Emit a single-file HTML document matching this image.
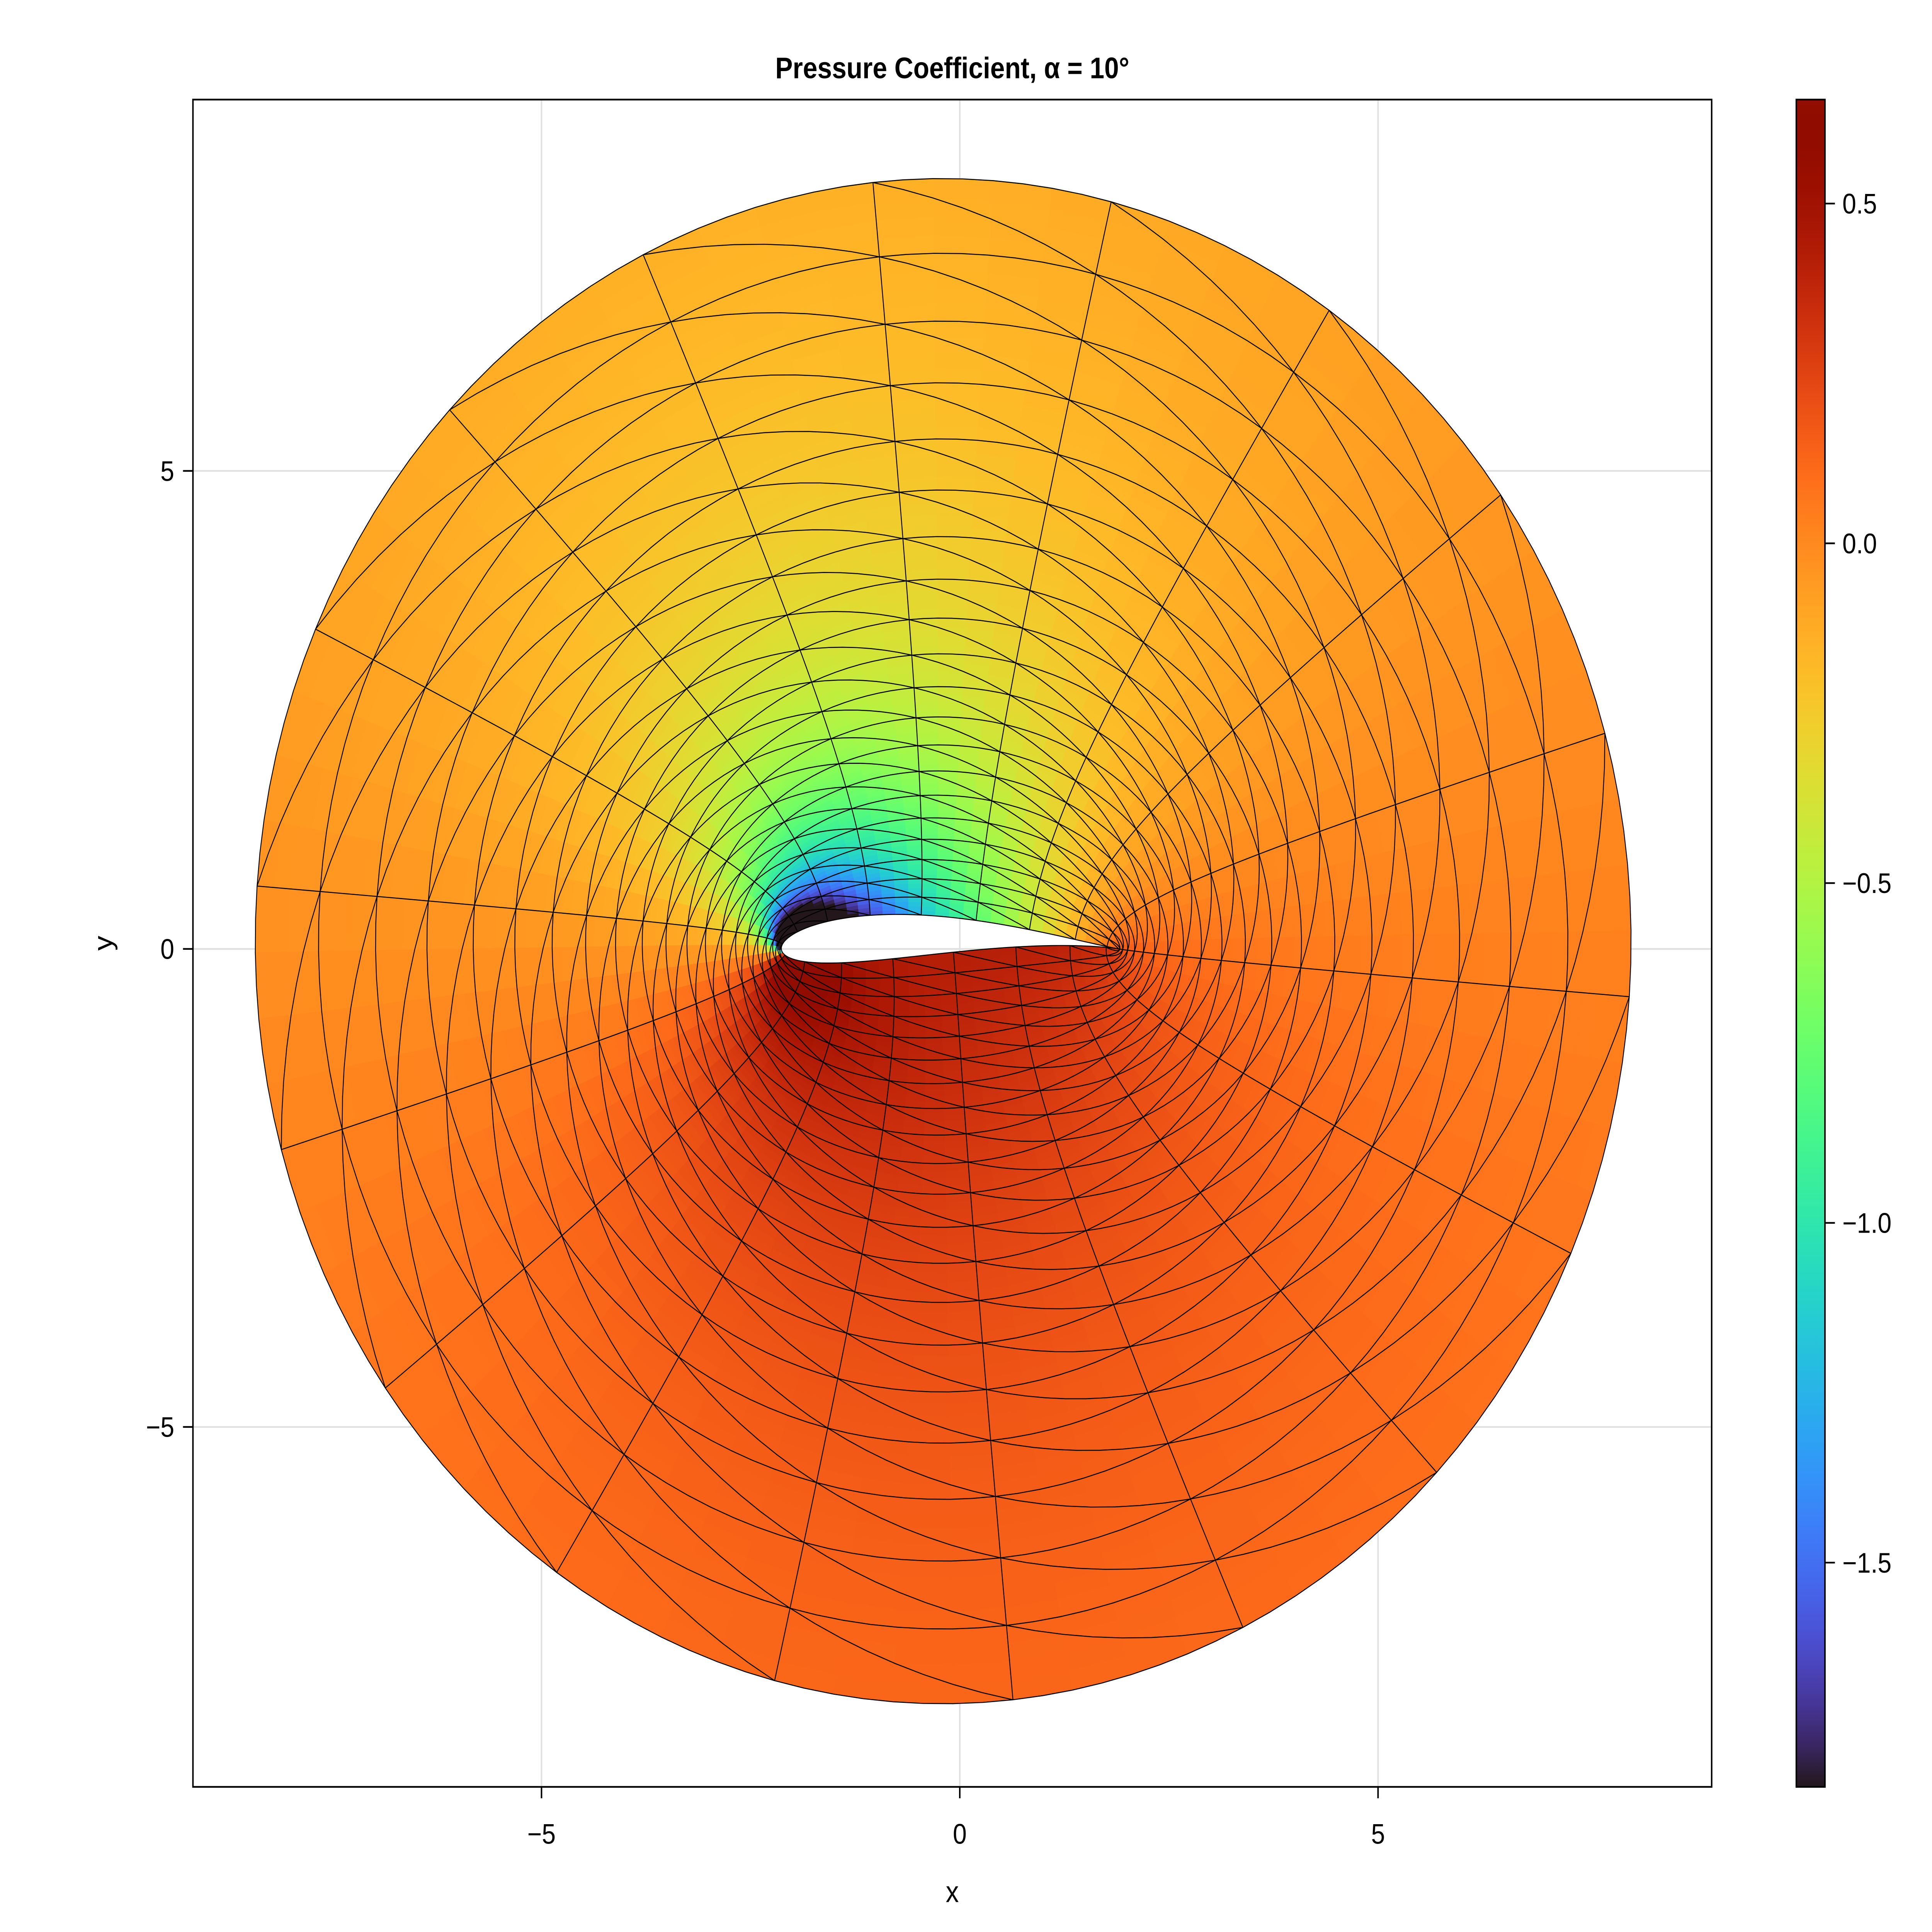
<!DOCTYPE html>
<html><head><meta charset="utf-8"><style>
html,body{margin:0;padding:0;background:#fff;overflow:hidden;width:100vw;height:100vh;}
svg{display:block;font-family:"Liberation Sans",sans-serif;width:100vw;height:100vh;}
</style></head><body>
<svg id="chart" viewBox="0 0 1552 1358" preserveAspectRatio="none" xmlns="http://www.w3.org/2000/svg">
<rect width="1552" height="1358" fill="#fff"/>
<text x="765" y="55" text-anchor="middle" font-size="21" font-weight="bold">Pressure Coefficient, α = 10°</text>
<g id="grid"></g>
<g id="mesh"></g>
<g id="lines"></g>
<rect x="155" y="70" width="1220" height="1186" fill="none" stroke="#000" stroke-width="1.2"/>
<g id="axes"></g>
<text x="765" y="1337" text-anchor="middle" font-size="21">x</text>
<text x="0" y="0" transform="translate(90,663) rotate(-90)" text-anchor="middle" font-size="21">y</text>
<defs><linearGradient id="cbg" x1="0" y1="1" x2="0" y2="0"></linearGradient></defs>
<rect x="1443" y="70" width="23" height="1186" fill="url(#cbg)" stroke="#000" stroke-width="1.2"/>
<g id="cbticks"></g>
</svg>
<script>
const alphaDeg = [10];
const zetaCenter = [-0.1, 0.08];
const outerRadius = [8.1];
const xTicks = [-5, 0, 5];
const yTicks = [-5, 0, 5];
const cbTicks = [0.5, 0.0, -0.5, -1.0, -1.5];
const cbTickLabels = ["0.5", "0.0", "\u22120.5", "\u22121.0", "\u22121.5"];
const cRange = [-1.83, 0.653];
const nTheta = [18];
const nRings = [20];

const NS = "http://www.w3.org/2000/svg";
const sx = x => 771 + 67.2 * x;
const sy = y => 667 - 67.2 * y;
const cy = v => 70 + (cRange[1] - v) / (cRange[1] - cRange[0]) * 1186;
function mk(tag, attrs, parent) { const e = document.createElementNS(NS, tag); for (const k in attrs) e.setAttribute(k, attrs[k]); parent.appendChild(e); return e; }
function turbo(x) {
  x = Math.max(0, Math.min(1, x));
  const r = 0.13572138 + x*(4.61539260 + x*(-42.66032258 + x*(132.13108234 + x*(-152.94239396 + x*59.28637943))));
  const g = 0.09140261 + x*(2.19418839 + x*(4.84296658 + x*(-14.18503333 + x*(4.27729857 + x*2.82956604))));
  const b = 0.10667330 + x*(12.64194608 + x*(-60.58204836 + x*(110.36276771 + x*(-89.90310912 + x*27.34824973))));
  const c = v => Math.round(255 * Math.max(0, Math.min(1, v)));
  return `rgb(${c(r)},${c(g)},${c(b)})`;
}
const cm = (a, b) => [a[0]*b[0]-a[1]*b[1], a[0]*b[1]+a[1]*b[0]];
const cd = (a, b) => { const d = b[0]*b[0]+b[1]*b[1]; return [(a[0]*b[0]+a[1]*b[1])/d, (a[1]*b[0]-a[0]*b[1])/d]; };
const ca = (a, b) => [a[0]+b[0], a[1]+b[1]];
const cs = (a, b) => [a[0]-b[0], a[1]-b[1]];

const al = alphaDeg[0] * Math.PI / 180;
const z0 = zetaCenter;
const s1 = cs([1,0], z0);
const aR = Math.hypot(s1[0], s1[1]);
const eM = [Math.cos(al), -Math.sin(al)], eP = [Math.cos(al), Math.sin(al)];
const a2 = aR * aR;
const term1 = cs(eM, cd(cm([a2,0], eP), cm(s1, s1)));
const Gam = cm([0, 2*Math.PI], cm(s1, term1))[0];
function cp(zeta) {
  const s = cs(zeta, z0);
  let W = cs(eM, cd(cm([a2,0], eP), cm(s, s)));
  W = ca(W, cd([0, Gam/(2*Math.PI)], s));
  const dz = cs([1,0], cd([1,0], cm(zeta, zeta)));
  const w = cd(W, dz);
  return 1 - (w[0]*w[0] + w[1]*w[1]);
}
function toZ(zeta) { const z = ca(zeta, cd([1,0], zeta)); return [z[0] - 0.1, z[1]]; }

const grid = document.getElementById('grid');
xTicks.forEach(t => { const l = mk('line', {x1: sx(t), x2: sx(t), y1: 70, y2: 1256, stroke: '#e0e0e0', 'stroke-width': 1.2}, grid);   });
yTicks.forEach(t => { const l = mk('line', {x1: 155, x2: 1375, y1: sy(t), y2: sy(t), stroke: '#e0e0e0', 'stroke-width': 1.2}, grid);   });

const N = nTheta[0], K = nRings[0], R = outerRadius[0];
const th0 = Math.atan2(-z0[1], 1 - z0[0]);
// parametric (u = angular index, v = ring index) -> zeta
function zetaAt(u, v) {
  const r = aR * Math.pow(R / aR, v / K);
  const t = th0 + 2 * Math.PI * u / N;
  return [z0[0] + r*Math.cos(t), z0[1] + r*Math.sin(t)];
}
function scr(zeta) { const z = toZ(zeta); return [sx(z[0]), sy(z[1])]; }

// fine fill
const mesh = document.getElementById('mesh');
const F = 4;
for (let v = 0; v < K * F; v++) {
  for (let u = 0; u < N * F; u++) {
    const quad = [[u, v], [u+1, v], [u+1, v+1], [u, v+1]].map(p => zetaAt(p[0]/F, p[1]/F));
    const zc = zetaAt((u+0.5)/F, (v+0.5)/F);
    const col = turbo((cp(zc) - cRange[0]) / (cRange[1] - cRange[0]));
    const d = quad.map(q => scr(q)).map(p => p[0].toFixed(2) + ',' + p[1].toFixed(2)).join(' ');
    const el = mk('polygon', {points: d, fill: col, stroke: col, 'stroke-width': 0.5}, mesh);
    
    
  }
}

// edges as curves in parameter space
const lines = document.getElementById('lines');
function curve(fn, steps, name) {
  const pts = [];
  for (let i = 0; i <= steps; i++) { const p = scr(fn(i / steps)); pts.push(p[0].toFixed(2) + ',' + p[1].toFixed(2)); }
  const el = mk('polyline', {points: pts.join(' '), fill: 'none', stroke: '#000', 'stroke-width': 0.7}, lines);
  
  
}
for (let k = 0; k <= K; k++) curve(s => zetaAt(s * N, k), N * 8, 'ring-edge');
for (let j = 0; j < N; j++) curve(s => zetaAt(j, s * K), K * 4, 'radial-edge');
for (let k = 0; k < K; k++) for (let j = 0; j < N; j++) curve(s => zetaAt(j + s, k + s), 8, 'diagonal-edge');

const axes = document.getElementById('axes');
xTicks.forEach(t => {
  const l = mk('line', {x1: sx(t), x2: sx(t), y1: 1256, y2: 1264, stroke: '#000', 'stroke-width': 1.2}, axes);
   
  const tx = mk('text', {x: sx(t), y: 1296, 'text-anchor': 'middle', 'font-size': 20}, axes);
  tx.textContent = t < 0 ? '\u2212' + Math.abs(t) : String(t);
   
});
yTicks.forEach(t => {
  const l = mk('line', {x1: 147, x2: 155, y1: sy(t), y2: sy(t), stroke: '#000', 'stroke-width': 1.2}, axes);
   
  const tx = mk('text', {x: 140, y: sy(t) + 7, 'text-anchor': 'end', 'font-size': 20}, axes);
  tx.textContent = t < 0 ? '\u2212' + Math.abs(t) : String(t);
   
});

const grad = document.getElementById('cbg');
for (let i = 0; i <= 40; i++) { const f = i / 40; mk('stop', {offset: f, 'stop-color': turbo(f)}, grad); }
const cbt = document.getElementById('cbticks');
cbTicks.forEach((v, i) => {
  const l = mk('line', {x1: 1466, x2: 1474, y1: cy(v), y2: cy(v), stroke: '#000', 'stroke-width': 1.2}, cbt);
   
  const tx = mk('text', {x: 1480, y: cy(v) + 7, 'font-size': 20}, cbt);
  tx.textContent = cbTickLabels[i];
   
});
</script>
</body></html>
